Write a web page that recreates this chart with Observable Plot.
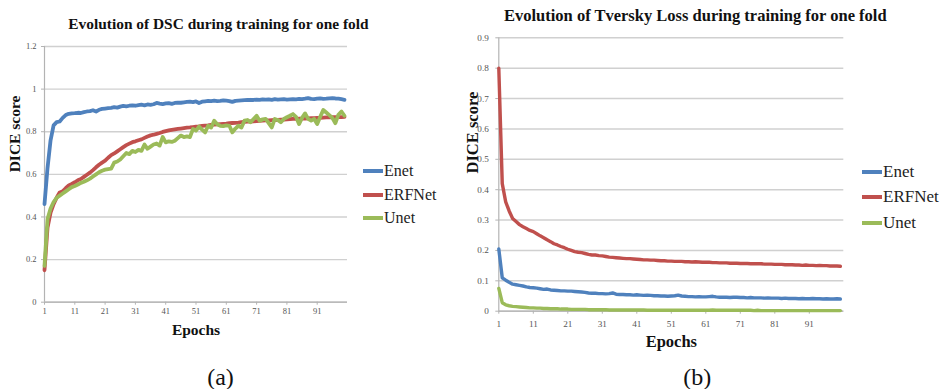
<!DOCTYPE html>
<html>
<head>
<meta charset="utf-8">
<script src="https://cdn.jsdelivr.net/npm/d3@7"></script>
<script src="https://cdn.jsdelivr.net/npm/@observablehq/plot@0.6"></script>
<style>
  html, body { margin: 0; padding: 0; background: #fff; }
  #wrap { position: relative; width: 942px; height: 389px; overflow: hidden; background: #fff; font-family: "Liberation Serif", serif; }
  .panel { position: absolute; top: 0; }
  .legend { position: absolute; font-family: "Liberation Serif", serif; color: #222; }
  .legend .item { position: absolute; left: 0; height: 20px; line-height: 20px; white-space: nowrap; display: flex; align-items: center; }
  .legend .sw { display: inline-block; width: 20px; height: 4px; margin-right: 1px; }
</style>
</head>
<body>
<div id="wrap"></div>
<script>
// ---------- data ----------
const epochs = d3.range(1, 101);
const seriesNames = ["Enet", "ERFNet", "Unet"];
const seriesColors = ["#4f81bd", "#c0504d", "#9bbb59"];

const dscEnet = [
  0.46, 0.63, 0.76, 0.83, 0.845, 0.848, 0.865, 0.878, 0.884, 0.886,
  0.887, 0.889, 0.888, 0.892, 0.895, 0.897, 0.901, 0.895, 0.903, 0.907,
  0.909, 0.911, 0.912, 0.915, 0.913, 0.918, 0.921, 0.919, 0.922, 0.924,
  0.922, 0.925, 0.927, 0.924, 0.928, 0.926, 0.929, 0.935, 0.932, 0.930,
  0.933, 0.934, 0.931, 0.935, 0.937, 0.936, 0.938, 0.940, 0.941, 0.939,
  0.942, 0.935, 0.941, 0.943, 0.945, 0.944, 0.946, 0.944, 0.945, 0.947,
  0.946, 0.944, 0.940, 0.945, 0.946, 0.947, 0.948, 0.949, 0.950, 0.949,
  0.951, 0.950, 0.952, 0.951, 0.952, 0.950, 0.953, 0.951, 0.952, 0.953,
  0.951, 0.952, 0.953, 0.952, 0.954, 0.953, 0.955, 0.958, 0.954, 0.953,
  0.955, 0.956, 0.954, 0.955, 0.957, 0.958, 0.956, 0.955, 0.953, 0.950
];
const dscErfnet = [
  0.15, 0.35, 0.42, 0.46, 0.49, 0.515, 0.52, 0.535, 0.548, 0.555,
  0.563, 0.572, 0.578, 0.588, 0.598, 0.608, 0.620, 0.633, 0.645, 0.655,
  0.664, 0.678, 0.690, 0.698, 0.708, 0.718, 0.728, 0.737, 0.744, 0.751,
  0.755, 0.760, 0.764, 0.771, 0.778, 0.783, 0.786, 0.790, 0.794, 0.799,
  0.803, 0.806, 0.809, 0.811, 0.813, 0.815, 0.817, 0.819, 0.820, 0.822,
  0.824, 0.825, 0.827, 0.829, 0.830, 0.832, 0.833, 0.835, 0.836, 0.837,
  0.838, 0.840, 0.841, 0.842, 0.843, 0.845, 0.846, 0.847, 0.848, 0.849,
  0.850, 0.851, 0.852, 0.853, 0.853, 0.854, 0.855, 0.856, 0.857, 0.857,
  0.858, 0.859, 0.860, 0.860, 0.861, 0.862, 0.862, 0.863, 0.864, 0.864,
  0.865, 0.865, 0.866, 0.867, 0.867, 0.868, 0.868, 0.869, 0.869, 0.870
];
const dscUnet = [
  0.17, 0.39, 0.44, 0.47, 0.49, 0.50, 0.51, 0.52, 0.53, 0.54,
  0.545, 0.552, 0.56, 0.565, 0.572, 0.58, 0.59, 0.60, 0.61, 0.617,
  0.622, 0.625, 0.627, 0.655, 0.66, 0.67, 0.685, 0.70, 0.695, 0.71,
  0.705, 0.715, 0.71, 0.74, 0.72, 0.73, 0.74, 0.745, 0.735, 0.775,
  0.75, 0.755, 0.752, 0.758, 0.77, 0.782, 0.775, 0.778, 0.775, 0.813,
  0.805, 0.824, 0.81, 0.797, 0.828, 0.82, 0.852, 0.835, 0.828, 0.826,
  0.83, 0.828, 0.797, 0.815, 0.828, 0.82, 0.852, 0.855, 0.844, 0.86,
  0.875, 0.852, 0.858, 0.86, 0.84, 0.82, 0.86, 0.855, 0.844, 0.86,
  0.868, 0.875, 0.883, 0.87, 0.836, 0.865, 0.886, 0.86, 0.852, 0.86,
  0.836, 0.87, 0.902, 0.89, 0.878, 0.865, 0.84, 0.88, 0.895, 0.875
];

const lossEnet = [
  0.205, 0.11, 0.102, 0.095, 0.089, 0.087, 0.085, 0.083, 0.080, 0.078,
  0.077, 0.076, 0.074, 0.072, 0.073, 0.070, 0.069, 0.068, 0.067, 0.067,
  0.066, 0.066, 0.065, 0.064, 0.063, 0.062, 0.060, 0.059, 0.059, 0.058,
  0.058, 0.057, 0.058, 0.060, 0.056, 0.055, 0.055, 0.054, 0.054, 0.053,
  0.054, 0.053, 0.052, 0.053, 0.052, 0.051, 0.051, 0.050, 0.050, 0.049,
  0.050, 0.051, 0.053, 0.050, 0.049, 0.048, 0.048, 0.047, 0.048, 0.047,
  0.047, 0.048, 0.049, 0.047, 0.046, 0.046, 0.046, 0.045, 0.046, 0.046,
  0.045, 0.045, 0.044, 0.045, 0.044, 0.044, 0.044, 0.043, 0.044, 0.043,
  0.043, 0.043, 0.042, 0.043, 0.042, 0.042, 0.042, 0.041, 0.042, 0.041,
  0.041, 0.042, 0.041, 0.041, 0.040, 0.041, 0.040, 0.040, 0.041, 0.040
];
const lossErfnet = [
  0.80, 0.42, 0.36, 0.33, 0.305, 0.295, 0.285, 0.278, 0.272, 0.266,
  0.262, 0.255, 0.248, 0.242, 0.235, 0.229, 0.222, 0.218, 0.213, 0.209,
  0.204, 0.200, 0.196, 0.194, 0.193, 0.190, 0.187, 0.185, 0.185, 0.183,
  0.182, 0.180, 0.178, 0.177, 0.176, 0.175, 0.174, 0.173, 0.173, 0.172,
  0.171, 0.170, 0.169, 0.169, 0.168, 0.168, 0.167, 0.166, 0.166, 0.165,
  0.165, 0.164, 0.164, 0.164, 0.163, 0.163, 0.162, 0.163, 0.162, 0.161,
  0.161, 0.161, 0.160, 0.160, 0.159, 0.159, 0.159, 0.158, 0.158, 0.158,
  0.157, 0.157, 0.157, 0.156, 0.156, 0.156, 0.156, 0.155, 0.155, 0.155,
  0.154, 0.154, 0.154, 0.153, 0.153, 0.153, 0.152, 0.152, 0.151, 0.152,
  0.151, 0.151, 0.150, 0.151, 0.150, 0.150, 0.149, 0.149, 0.149, 0.148
];
const lossUnet = [
  0.075, 0.028, 0.021, 0.018, 0.016, 0.015, 0.014, 0.013, 0.012, 0.011,
  0.011, 0.010, 0.010, 0.009, 0.009, 0.008, 0.008, 0.008, 0.007, 0.007,
  0.007, 0.006, 0.006, 0.006, 0.006, 0.006, 0.005, 0.005, 0.005, 0.005,
  0.005, 0.005, 0.004, 0.004, 0.004, 0.004, 0.004, 0.004, 0.004, 0.004,
  0.004, 0.004, 0.004, 0.003, 0.003, 0.003, 0.003, 0.003, 0.003, 0.003,
  0.003, 0.003, 0.003, 0.003, 0.003, 0.003, 0.003, 0.003, 0.003, 0.003,
  0.003, 0.003, 0.004, 0.003, 0.003, 0.003, 0.003, 0.003, 0.003, 0.003,
  0.003, 0.003, 0.003, 0.003, 0.002, 0.003, 0.002, 0.002, 0.002, 0.002,
  0.002, 0.002, 0.002, 0.002, 0.002, 0.002, 0.002, 0.002, 0.002, 0.002,
  0.002, 0.002, 0.002, 0.002, 0.002, 0.002, 0.002, 0.002, 0.002, 0.002
];

const xTicks = [1, 11, 21, 31, 41, 51, 61, 71, 81, 91];
const yTicksDsc = [0, 0.2, 0.4, 0.6, 0.8, 1, 1.2];
const yTicksLoss = [0, 0.1, 0.2, 0.3, 0.4, 0.5, 0.6, 0.7, 0.8, 0.9];

const titleDsc = "Evolution of DSC during training for one fold";
const titleLoss = "Evolution of Tversky Loss during training for one fold";
const yLabel = "DICE score";
const xLabel = "Epochs";
const captions = ["(a)", "(b)"];

// ---------- helpers ----------
function toTable(arrays) {
  const rows = [];
  arrays.forEach((arr, i) => arr.forEach((v, j) => rows.push({epoch: epochs[j], value: v, series: seriesNames[i]})));
  return rows;
}

const FONT = "'Liberation Serif', 'Times New Roman', serif";
const GRID = "#d0d0d0";
const AXIS = "#b3b3b3";
const TICKTXT = "#555555";

function panel(o) {
  const frameBottom = 389 - o.mb;
  return Plot.plot({
    width: o.width, height: 389,
    marginLeft: o.ml, marginRight: o.mr, marginTop: o.mt, marginBottom: o.mb,
    style: {fontFamily: FONT, background: "white", overflow: "visible"},
    x: {domain: [1, 101]},
    y: {domain: o.yDomain},
    color: {domain: seriesNames, range: seriesColors},
    marks: [
      Plot.gridY(o.yTicks, {stroke: GRID, strokeOpacity: 1, strokeWidth: 1.4}),
      Plot.ruleX([1], {stroke: AXIS, strokeWidth: 1.2}),
      Plot.ruleY([0], {stroke: AXIS, strokeWidth: 1.2}),
      Plot.axisY(o.yTicks, {tickSize: 3, tickPadding: o.yTickPad, fontSize: o.tickFont, tickFormat: d => String(d), fill: TICKTXT, stroke: AXIS, label: null}),
      Plot.axisX(xTicks, {tickSize: 3, tickPadding: o.xTickPad, fontSize: o.tickFont, tickFormat: d => String(d), fill: TICKTXT, stroke: AXIS, label: null}),
      Plot.lineY(o.rows, {x: "epoch", y: "value", stroke: "series", z: "series", strokeWidth: o.lineW, strokeLinejoin: "round", strokeLinecap: "round"}),
      Plot.text([o.title], {text: d => d, frameAnchor: "top", dx: o.titleDx, dy: o.titleBase - o.mt, lineAnchor: "bottom", fontWeight: "bold", fontSize: o.titleFont, fill: "#111"}),
      Plot.text([yLabel], {text: d => d, frameAnchor: "left", rotate: -90, dx: o.yLabDx, dy: o.yLabDy, lineAnchor: "bottom", fontWeight: "bold", fontSize: o.labFont, fill: "#111"}),
      Plot.text([xLabel], {text: d => d, frameAnchor: "bottom", dy: o.xLabBase - frameBottom, lineAnchor: "bottom", fontWeight: "bold", fontSize: o.labFont, fill: "#111"}),
      Plot.text([o.cap], {text: d => d, frameAnchor: "bottom", dx: o.capDx, dy: o.capBase - frameBottom, lineAnchor: "bottom", fontSize: 24, fill: "#111"})
    ]
  });
}

function legend(left, tops, fontSize) {
  const el = document.createElement("div");
  el.className = "legend";
  el.style.left = left + "px";
  el.style.top = "0px";
  el.style.fontSize = fontSize + "px";
  seriesNames.forEach((name, i) => {
    const it = document.createElement("div");
    it.className = "item";
    it.style.top = (tops[i] - 10) + "px";
    const sw = document.createElement("span");
    sw.className = "sw";
    sw.style.background = seriesColors[i];
    const tx = document.createElement("span");
    tx.textContent = name;
    it.appendChild(sw); it.appendChild(tx);
    el.appendChild(it);
  });
  return el;
}

const wrap = document.getElementById("wrap");

// left panel: frame x 44..347, y 46..301.7
const left = panel({
  width: 460, ml: 44, mr: 113, mt: 46, mb: 87.3,
  yDomain: [0, 1.2], yTicks: yTicksDsc,
  rows: toTable([dscEnet, dscErfnet, dscUnet]),
  title: titleDsc, titleDx: 22.5, titleBase: 28.5, titleFont: 15.4,
  yLabDx: -25, yLabDy: -2, xLabBase: 334, labFont: 15.5,
  cap: captions[0], capDx: 24.5, capBase: 384,
  xTickPad: 3, yTickPad: 5, tickFont: 8.5, lineW: 3.8
});
const d1 = document.createElement("div");
d1.className = "panel"; d1.style.left = "0px";
d1.appendChild(left);
wrap.appendChild(d1);

// right panel: frame x 498.3..843.3, y 37.3..310.7 ; svg starts at 460
const right = panel({
  width: 482, ml: 38.3, mr: 98.7, mt: 37.3, mb: 78.3,
  yDomain: [0, 0.9], yTicks: yTicksLoss,
  rows: toTable([lossEnet, lossErfnet, lossUnet]),
  title: titleLoss, titleDx: 24, titleBase: 20, titleFont: 16.5,
  yLabDx: -21, yLabDy: -1, xLabBase: 346, labFont: 16.5,
  cap: captions[1], capDx: 26, capBase: 384,
  xTickPad: 6, yTickPad: 7, tickFont: 9.2, lineW: 3.4
});
const d2 = document.createElement("div");
d2.className = "panel"; d2.style.left = "460px";
d2.appendChild(right);
wrap.appendChild(d2);

wrap.appendChild(legend(363, [170.7, 195, 218.3], 16));
wrap.appendChild(legend(862, [171.7, 196.7, 222.7], 17));
</script>
</body>
</html>
